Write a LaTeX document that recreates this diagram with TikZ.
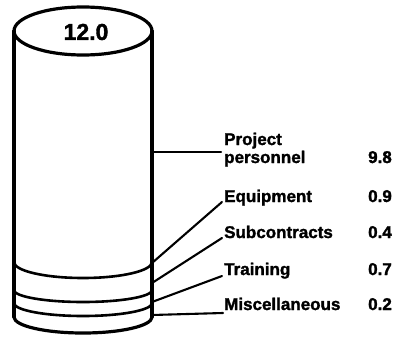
\documentclass[tikz,border=0pt]{standalone}
\usepackage{fontspec}
\setmainfont{Liberation Sans}
\newfontfamily\heavyfont{Liberation Sans Bold}[FakeBold=1.6]
\begin{document}
\begin{tikzpicture}[x=1pt,y=-1pt,
  outline/.style={line width=3.2pt, line cap=round, line join=round},
  band/.style={line width=2.6pt, line cap=round},
  leader/.style={line width=2.1pt, line cap=round},
  lbl/.style={anchor=base west, inner sep=0pt, font=\fontsize{17}{18}\selectfont\heavyfont},
  val/.style={anchor=base east, inner sep=0pt, font=\fontsize{17}{18}\selectfont\heavyfont},
  total/.style={inner sep=0pt, font=\fontsize{23}{24}\selectfont\heavyfont}]
\useasboundingbox (0,0) rectangle (404,343);

% cylinder: top ellipse, sides and bottom rim
\draw[outline] (83,31) ellipse [x radius=69, y radius=24];
\draw[outline] (14,31) -- (14,317);
\draw[outline] (152,31) -- (152,317);
\draw[outline] (14,317) arc[start angle=180, end angle=0, x radius=69, y radius=16];

% slice boundaries near the base
\draw[band] (14,262) arc[start angle=180, end angle=0, x radius=69, y radius=16];
\draw[band] (14,290) arc[start angle=180, end angle=0, x radius=69, y radius=12];
\draw[band] (14,303) arc[start angle=180, end angle=0, x radius=69, y radius=13];

\node[total] (tot) at (86,32) {12.0};

% points on the cylinder where the leaders start
\coordinate (c-pp)   at (152,152);
\coordinate (c-eq)   at (152,263);
\coordinate (c-sub)  at (152,283);
\coordinate (c-tr)   at (152,302);
\coordinate (c-misc) at (152,315);

% labels
\node[lbl] (pp1)  at (224,145) {Project};
\node[lbl] (pp)   at (224,163) {personnel};
\node[lbl] (eq)   at (224,202) {Equipment};
\node[lbl] (sub)  at (224,238) {Subcontracts};
\node[lbl] (tr)   at (224,275) {Training};
\node[lbl] (misc) at (224,310) {Miscellaneous};

% values
\node[val] (v-pp)   at (392,163) {9.8};
\node[val] (v-eq)   at (392,202) {0.9};
\node[val] (v-sub)  at (392,238) {0.4};
\node[val] (v-tr)   at (392,275) {0.7};
\node[val] (v-misc) at (392,310) {0.2};

% leaders
\draw[leader] (c-pp) -- ([xshift=-3pt]c-pp -| pp.west);
\draw[leader] (c-eq) -- ([xshift=-2pt]eq.base west);
\draw[leader] (c-sub) -- ([xshift=-2pt]sub.base west);
\draw[leader] (c-tr) -- ([xshift=-2pt,yshift=-1pt]tr.base west);
\draw[leader] (c-misc) -- ([xshift=-1pt,yshift=-3pt]misc.base west);
\end{tikzpicture}
\end{document}
